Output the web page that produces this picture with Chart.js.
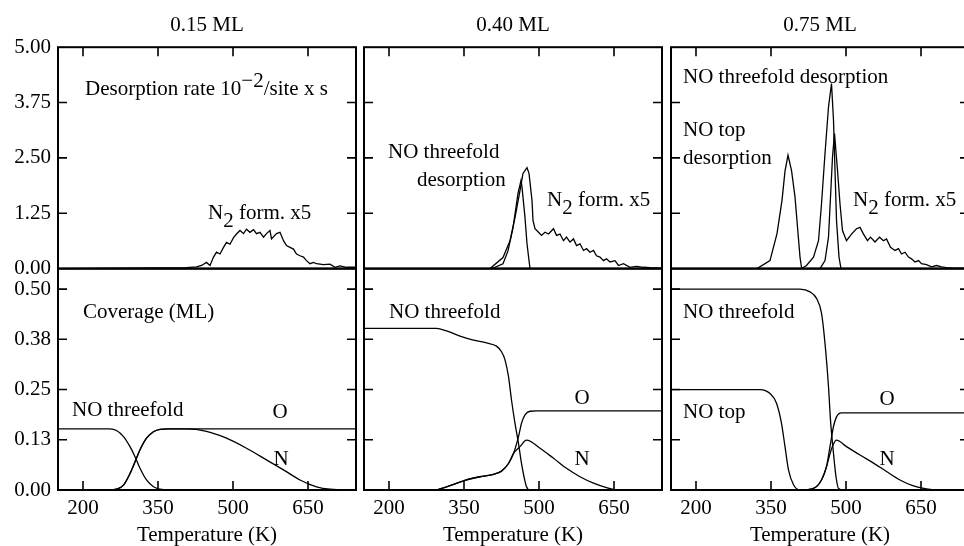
<!DOCTYPE html>
<html>
<head>
<meta charset="utf-8">
<script src="https://cdn.jsdelivr.net/npm/chart.js@4.4.1/dist/chart.umd.min.js"></script>
<style>
  html, body { margin: 0; padding: 0; background: #fff; overflow: hidden; width: 964px; height: 546px; }
  canvas { position: absolute; top: 0; }
</style>
</head>
<body>
<canvas id="c015" width="364" height="546" style="left:0px"></canvas>
<canvas id="c040" width="312" height="546" style="left:358px"></canvas>
<canvas id="c075" width="312" height="546" style="left:665px"></canvas>
<script>
// axis ticks
const tempTicks = [200, 350, 500, 650];
const rateTicks = [0, 1.25, 2.5, 3.75, 5];
const rateTickLabels = ['0.00', '1.25', '2.50', '3.75', '5.00'];
const covTicks = [0, 0.125, 0.25, 0.375, 0.5];
const covTickLabels = ['0.00', '0.13', '0.25', '0.38', '0.50'];

// ---- 0.15 ML ----
const n2T_015 = [150, 407, 427, 437, 447, 454, 461, 467, 474, 481, 487, 494, 501, 507, 514, 521, 527, 534, 541, 547, 554, 561, 567, 574, 577, 587, 594, 601, 607, 614, 621, 627, 634, 641, 647, 654, 661, 667, 681, 694, 704, 714, 727, 746];
const n2R_015 = [0, 0.02, 0.04, 0.07, 0.14, 0.07, 0.26, 0.37, 0.33, 0.48, 0.59, 0.55, 0.70, 0.78, 0.86, 0.79, 0.89, 0.82, 0.88, 0.79, 0.82, 0.71, 0.79, 0.86, 0.67, 0.79, 0.82, 0.63, 0.52, 0.48, 0.44, 0.33, 0.29, 0.26, 0.18, 0.11, 0.14, 0.11, 0.09, 0.10, 0.03, 0.06, 0.03, 0.03];
const nofT_015 = [150, 254, 267, 281, 294, 304, 314, 327, 341, 354, 370, 746];
const nofC_015 = [0.152, 0.152, 0.148, 0.133, 0.108, 0.083, 0.054, 0.025, 0.008, 0.002, 0, 0];
const oT_015 = [150, 254, 267, 281, 294, 304, 314, 327, 341, 354, 370, 746];
const oC_015 = [0, 0, 0.002, 0.012, 0.041, 0.07, 0.1, 0.129, 0.145, 0.151, 0.152, 0.152];
const nT_015 = [150, 254, 267, 281, 294, 304, 314, 327, 341, 354, 370, 407, 447, 487, 527, 567, 601, 634, 667, 694, 746];
const nC_015 = [0, 0, 0.002, 0.012, 0.041, 0.07, 0.1, 0.129, 0.145, 0.151, 0.152, 0.152, 0.146, 0.129, 0.104, 0.075, 0.05, 0.025, 0.008, 0.002, 0];

// ---- 0.40 ML ----
const nofDT_040 = [150, 406, 428, 438, 448, 458, 464, 466, 472, 476, 482, 746];
const nofDR_040 = [0, 0, 0.11, 0.4, 0.92, 1.7, 1.99, 1.84, 1.15, 0.56, 0, 0];
const n2T_040 = [150, 402, 428, 442, 452, 462, 468, 476, 480, 486, 488, 492, 499, 505, 512, 519, 529, 535, 542, 549, 555, 562, 569, 575, 582, 589, 595, 602, 609, 615, 622, 629, 635, 642, 652, 659, 669, 682, 695, 709, 722, 746];
const n2R_040 = [0, 0, 0.25, 0.63, 1.15, 1.76, 2.15, 2.28, 2.15, 1.54, 1.09, 0.9, 0.82, 0.75, 0.82, 0.78, 0.9, 0.75, 0.78, 0.63, 0.71, 0.6, 0.67, 0.52, 0.56, 0.41, 0.45, 0.37, 0.41, 0.29, 0.26, 0.18, 0.22, 0.15, 0.18, 0.07, 0.11, 0.03, 0.05, 0.03, 0.02, 0.01];
const nofT_040 = [150, 295, 315, 342, 369, 395, 415, 425, 432, 439, 445, 452, 459, 465, 470, 475, 482, 746];
const nofC_040 = [0.402, 0.402, 0.396, 0.383, 0.373, 0.366, 0.358, 0.344, 0.324, 0.282, 0.224, 0.166, 0.116, 0.066, 0.033, 0.008, 0, 0];
const oT_040 = [150, 289, 315, 349, 382, 409, 425, 439, 449, 459, 465, 472, 482, 495, 746];
const oC_040 = [0, 0, 0.008, 0.023, 0.033, 0.039, 0.047, 0.066, 0.091, 0.133, 0.166, 0.187, 0.196, 0.197, 0.197];
const nT_040 = [150, 289, 315, 349, 382, 409, 425, 439, 449, 462, 475, 502, 529, 555, 582, 609, 635, 662, 746];
const nC_040 = [0, 0, 0.008, 0.023, 0.033, 0.039, 0.047, 0.066, 0.091, 0.108, 0.124, 0.104, 0.079, 0.054, 0.033, 0.017, 0.006, 0, 0];

// ---- 0.75 ML ----
const topDT_075 = [150, 322, 348, 362, 372, 378, 384, 391, 398, 403, 408, 411, 414, 746];
const topDR_075 = [0, 0, 0.18, 0.79, 1.54, 2.2, 2.56, 2.22, 1.62, 0.94, 0.26, 0.03, 0, 0];
const nofDT_075 = [150, 411, 421, 435, 445, 451, 458, 465, 471, 475, 478, 481, 486, 490, 746];
const nofDR_075 = [0, 0, 0.07, 0.26, 0.63, 1.46, 2.6, 3.65, 4.18, 3.35, 2.22, 1.09, 0.26, 0, 0];
const n2T_075 = [150, 448, 458, 465, 469, 473, 477, 483, 488, 493, 501, 511, 521, 528, 535, 543, 549, 558, 567, 575, 581, 589, 598, 605, 611, 618, 625, 631, 638, 645, 651, 661, 671, 681, 691, 701, 715, 746];
const n2R_075 = [0, 0, 0.18, 0.71, 1.61, 2.52, 3.05, 2.22, 1.46, 0.86, 0.63, 0.78, 0.9, 0.93, 0.78, 0.63, 0.71, 0.6, 0.71, 0.63, 0.67, 0.48, 0.41, 0.45, 0.33, 0.37, 0.26, 0.22, 0.15, 0.18, 0.11, 0.09, 0.04, 0.07, 0.04, 0.02, 0.01, 0.01];
const nofT_075 = [150, 408, 428, 441, 451, 458, 465, 469, 475, 480, 485, 495, 746];
const nofC_075 = [0.5, 0.5, 0.493, 0.477, 0.44, 0.365, 0.257, 0.174, 0.091, 0.033, 0.004, 0, 0];
const topT_075 = [150, 328, 348, 361, 371, 378, 385, 395, 408, 746];
const topC_075 = [0.25, 0.25, 0.24, 0.216, 0.166, 0.108, 0.05, 0.013, 0, 0];
const oT_075 = [150, 408, 435, 451, 461, 468, 475, 481, 491, 746];
const oC_075 = [0, 0, 0.004, 0.025, 0.058, 0.108, 0.158, 0.182, 0.192, 0.192];
const nT_075 = [150, 408, 435, 451, 461, 468, 474, 481, 501, 528, 555, 581, 608, 635, 661, 688, 746];
const nC_075 = [0, 0, 0.004, 0.025, 0.058, 0.09, 0.112, 0.124, 0.108, 0.087, 0.067, 0.046, 0.025, 0.010, 0.003, 0, 0];

const FONT = "'Liberation Serif', 'Times New Roman', serif";
const FSIZE = 21;
Chart.defaults.font.family = FONT;
Chart.defaults.font.size = FSIZE;
Chart.defaults.color = '#000';

const pts = (xs, ys) => xs.map((x, i) => ({ x: x, y: ys[i] }));

function rateLine(xs, ys) {
  return { data: pts(xs, ys), yAxisID: 'yTop', borderColor: '#000', borderWidth: 1.3, pointRadius: 0, tension: 0 };
}
function covLine(xs, ys) {
  return { data: pts(xs, ys), yAxisID: 'yBot', borderColor: '#000', borderWidth: 1.3, pointRadius: 0, cubicInterpolationMode: 'monotone' };
}

// frame boxes + inward tick marks on every side
const panelFrame = {
  id: 'panelFrame',
  afterDatasetsDraw(chart) {
    const { ctx, chartArea: a, scales } = chart;
    const xs = scales.x, yt = scales.yTop, yb = scales.yBot;
    const len = 9;
    ctx.save();
    ctx.strokeStyle = '#000';
    ctx.lineWidth = 2;
    ctx.strokeRect(a.left, yt.top, a.right - a.left, yt.bottom - yt.top);
    ctx.strokeRect(a.left, yb.top, a.right - a.left, yb.bottom - yb.top);
    ctx.lineWidth = 1.6;
    ctx.beginPath();
    tempTicks.forEach(t => {
      const px = xs.getPixelForValue(t);
      ctx.moveTo(px, yt.top); ctx.lineTo(px, yt.top + len);
      ctx.moveTo(px, yb.bottom); ctx.lineTo(px, yb.bottom - len);
    });
    rateTicks.slice(1, -1).forEach(v => {
      const py = yt.getPixelForValue(v);
      ctx.moveTo(a.left, py); ctx.lineTo(a.left + len, py);
      ctx.moveTo(a.right, py); ctx.lineTo(a.right - len, py);
    });
    covTicks.slice(1).forEach(v => {
      const py = yb.getPixelForValue(v);
      ctx.moveTo(a.left, py); ctx.lineTo(a.left + len, py);
      ctx.moveTo(a.right, py); ctx.lineTo(a.right - len, py);
    });
    ctx.stroke();
    ctx.restore();
  }
};

// text labels inside panels, placed by data coordinates
const panelNotes = {
  id: 'panelNotes',
  afterDraw(chart, args, opts) {
    const { ctx, scales } = chart;
    ctx.save();
    ctx.fillStyle = '#000';
    ctx.font = FSIZE + 'px ' + FONT;
    ctx.textBaseline = 'middle';
    ctx.textAlign = 'left';
    (opts.items || []).forEach(n => {
      let px = scales.x.getPixelForValue(n.x);
      const py = scales[n.axis].getPixelForValue(n.y);
      const total = n.parts.reduce((s, p) => s + ctx.measureText(p[0]).width, 0);
      if (n.align === 'center') px -= total / 2;
      n.parts.forEach(p => {
        ctx.fillText(p[0], px, py + p[1]);
        px += ctx.measureText(p[0]).width;
      });
    });
    ctx.restore();
  }
};

function makeColumn(id, title, rateSets, covSets, notes, showY, pad) {
  const yCommon = (ticks, labels, weight, max) => ({
    type: 'linear', position: 'left', stack: 'rows', stackWeight: 1, weight: weight,
    min: 0, max: max, offset: false,
    grid: { display: false, drawTicks: false }, border: { display: false },
    afterBuildTicks: s => { s.ticks = ticks.map(v => ({ value: v })); },
    afterFit: s => { s.width = showY ? 58 : 0; },
    ticks: { display: showY, padding: 7, autoSkip: false, callback: (v) => labels[ticks.indexOf(v)] }
  });
  return new Chart(document.getElementById(id), {
    type: 'line',
    data: { datasets: rateSets.concat(covSets) },
    options: {
      responsive: false,
      animation: false,
      layout: { padding: { left: pad[0], right: pad[1], top: 0, bottom: 0 } },
      plugins: {
        legend: { display: false },
        tooltip: { enabled: false },
        title: { display: true, text: title, fullSize: false, color: '#000', font: { size: FSIZE, weight: 'normal' }, padding: { top: 13, bottom: 9 } },
        panelNotes: { items: notes }
      },
      scales: {
        x: {
          type: 'linear', min: 150, max: 746,
          grid: { display: false, drawTicks: false }, border: { display: false },
          afterBuildTicks: s => { s.ticks = tempTicks.map(v => ({ value: v })); },
          afterFit: s => { s.height = 56; },
          ticks: { padding: 6, autoSkip: false, maxRotation: 0 },
          title: { display: true, text: 'Temperature (K)', font: { size: FSIZE, lineHeight: 1.0 }, padding: { top: 0, bottom: 0 } }
        },
        yBot: yCommon(covTicks, covTickLabels, 1, 0.551),
        yTop: yCommon(rateTicks, rateTickLabels, 2, 5)
      }
    },
    plugins: [panelFrame, panelNotes]
  });
}

makeColumn('c015', '0.15 ML',
  [rateLine(n2T_015, n2R_015)],
  [covLine(nofT_015, nofC_015), covLine(oT_015, oC_015), covLine(nT_015, nC_015)],
  [
    { axis: 'yTop', x: 204, y: 4.05, parts: [['Desorption rate 10', 0], ['\u22122', -8], ['/site x s', 0]] },
    { axis: 'yTop', x: 450, y: 1.24, parts: [['N', 0], ['2', 8], [' form. x5', 0]] },
    { axis: 'yBot', x: 200, y: 0.443, parts: [['Coverage (ML)', 0]] },
    { axis: 'yBot', x: 178, y: 0.199, parts: [['NO threefold', 0]] },
    { axis: 'yBot', x: 594, y: 0.194, parts: [['O', 0]], align: 'center' },
    { axis: 'yBot', x: 596, y: 0.075, parts: [['N', 0]], align: 'center' }
  ], true, [0, 8]);

makeColumn('c040', '0.40 ML',
  [rateLine(nofDT_040, nofDR_040), rateLine(n2T_040, n2R_040)],
  [covLine(nofT_040, nofC_040), covLine(oT_040, oC_040), covLine(nT_040, nC_040)],
  [
    { axis: 'yTop', x: 198, y: 2.62, parts: [['NO threefold', 0]] },
    { axis: 'yTop', x: 256, y: 1.99, parts: [['desorption', 0]] },
    { axis: 'yTop', x: 516, y: 1.54, parts: [['N', 0], ['2', 8], [' form. x5', 0]] },
    { axis: 'yBot', x: 200, y: 0.443, parts: [['NO threefold', 0]] },
    { axis: 'yBot', x: 586, y: 0.229, parts: [['O', 0]], align: 'center' },
    { axis: 'yBot', x: 586, y: 0.077, parts: [['N', 0]], align: 'center' }
  ], false, [6, 8]);

makeColumn('c075', '0.75 ML',
  [rateLine(topDT_075, topDR_075), rateLine(nofDT_075, nofDR_075), rateLine(n2T_075, n2R_075)],
  [covLine(nofT_075, nofC_075), covLine(topT_075, topC_075), covLine(oT_075, oC_075), covLine(nT_075, nC_075)],
  [
    { axis: 'yTop', x: 174, y: 4.32, parts: [['NO threefold desorption', 0]] },
    { axis: 'yTop', x: 174, y: 3.12, parts: [['NO top', 0]] },
    { axis: 'yTop', x: 174, y: 2.49, parts: [['desorption', 0]] },
    { axis: 'yTop', x: 514, y: 1.54, parts: [['N', 0], ['2', 8], [' form. x5', 0]] },
    { axis: 'yBot', x: 174, y: 0.443, parts: [['NO threefold', 0]] },
    { axis: 'yBot', x: 174, y: 0.194, parts: [['NO top', 0]] },
    { axis: 'yBot', x: 582, y: 0.226, parts: [['O', 0]], align: 'center' },
    { axis: 'yBot', x: 582, y: 0.077, parts: [['N', 0]], align: 'center' }
  ], false, [6, 8]);
</script>
</body>
</html>
